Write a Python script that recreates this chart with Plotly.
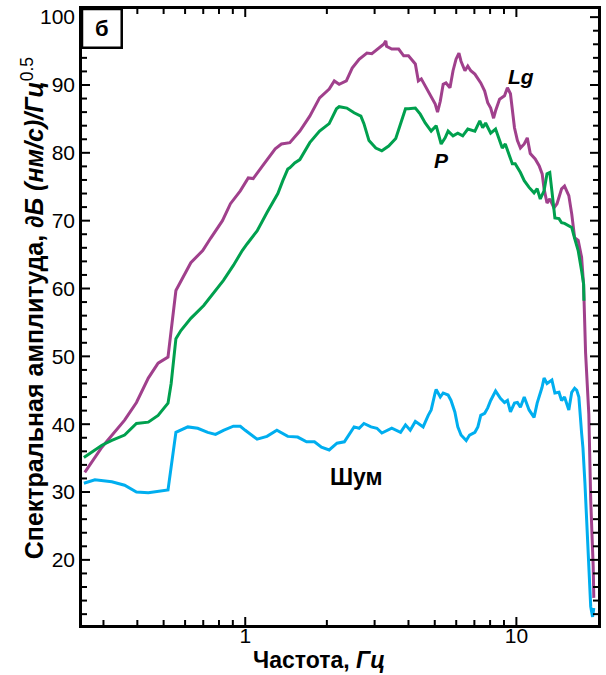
import math
import plotly.graph_objects as go

# ---- data (frequency in Hz, amplitude in dB) ----
lg_freq = [0.256, 0.296, 0.359, 0.397, 0.439, 0.477, 0.519, 0.555, 0.630, 0.697,
           0.745, 0.824, 0.882, 0.959, 1.026, 1.07, 1.16, 1.29, 1.36, 1.46,
           1.59, 1.73, 1.88, 2.04, 2.13, 2.22, 2.36, 2.48, 2.63, 2.81,
           2.93, 3.11, 3.24, 3.30, 3.32, 3.47, 3.68, 3.84, 4.00, 4.24,
           4.35, 4.46, 4.73, 5.02, 5.12, 5.24, 5.37, 5.50, 5.69, 5.84,
           5.99, 6.14, 6.25, 6.46, 6.62, 6.79, 7.03, 7.21, 7.39, 7.64,
           7.84, 8.04, 8.24, 8.38, 8.67, 9.04, 9.27, 9.51, 9.66, 9.84,
           10.09, 10.35, 10.69, 10.97, 11.25, 11.73, 12.13, 12.45, 12.65, 12.97,
           13.28, 13.76, 14.12, 14.68, 15.05, 15.61, 16.0, 16.4, 16.9, 17.4,
           17.7, 17.9, 18.0, 18.5, 18.8, 19.2, 19.3]
lg_amp = [32.9, 36.6, 40.6, 43.2, 46.8, 49.0, 49.9, 59.7, 63.8, 65.6,
          67.4, 70.0, 72.5, 74.4, 76.3, 76.2, 78.1, 80.6, 81.3, 81.5,
          83.2, 85.4, 88.1, 89.4, 90.6, 90.1, 90.6, 92.5, 93.8, 94.7,
          94.6, 95.4, 96.0, 96.5, 95.7, 95.3, 95.3, 94.3, 94.3, 93.1,
          90.6, 90.9, 89.1, 87.2, 86.0, 87.6, 90.1, 90.3, 89.6, 92.1,
          93.8, 94.7, 93.5, 92.1, 92.8, 92.1, 91.6, 91.0, 90.3, 89.1,
          87.4, 86.6, 85.1, 86.2, 87.9, 88.4, 89.6, 88.7, 86.2, 83.7,
          81.8, 80.7, 81.3, 82.2, 79.9, 79.1, 78.1, 76.9, 74.7, 72.6,
          73.2, 71.9, 72.5, 74.7, 75.1, 73.7, 71.0, 67.5, 67.1, 64.6,
          60.5, 55.0, 50.5, 41.5, 28.8, 19.0, 14.4]

p_freq = [0.254, 0.272, 0.296, 0.322, 0.359, 0.397, 0.439, 0.477, 0.519, 0.533,
          0.555, 0.579, 0.630, 0.703, 0.764, 0.831, 0.904, 0.975, 1.017, 1.106,
          1.203, 1.319, 1.376, 1.435, 1.46, 1.522, 1.59, 1.73, 1.88, 2.04,
          2.17, 2.22, 2.37, 2.52, 2.67, 2.74, 2.86, 3.03, 3.19, 3.38,
          3.59, 3.74, 3.90, 4.00, 4.24, 4.42, 4.61, 4.85, 5.06, 5.28,
          5.46, 5.60, 5.84, 6.08, 6.34, 6.62, 7.03, 7.33, 7.51, 7.70,
          8.04, 8.38, 8.67, 8.87, 9.10, 9.44, 9.66, 9.90, 10.35, 10.69,
          11.14, 11.62, 11.93, 12.25, 12.65, 12.97, 13.28, 13.52, 13.87, 14.36,
          14.68, 15.05, 15.61, 16.0, 16.4, 16.9, 17.4, 17.7, 17.75]
p_amp = [35.1, 35.9, 36.9, 37.6, 38.4, 40.1, 40.3, 41.3, 43.1, 46.0,
         52.6, 53.8, 55.6, 57.5, 59.3, 61.2, 63.4, 65.6, 66.6, 68.5,
         71.2, 74.0, 75.9, 77.6, 77.8, 78.5, 79.0, 81.5, 83.2, 84.3,
         86.5, 86.8, 86.6, 85.9, 85.4, 84.3, 81.8, 80.7, 80.3, 81.0,
         82.1, 84.3, 86.5, 86.5, 86.6, 85.7, 84.4, 83.2, 84.0, 81.3,
         82.2, 83.2, 82.5, 82.9, 82.5, 83.5, 83.2, 84.7, 83.7, 84.4,
         82.9, 83.5, 81.8, 80.7, 81.3, 79.3, 78.4, 78.4, 77.1, 75.9,
         74.9, 74.1, 74.7, 73.2, 74.4, 76.9, 77.1, 74.4, 70.4, 70.3,
         69.7, 69.6, 69.3, 69.0, 67.4, 65.6, 62.6, 60.7, 58.2]

noise_freq = [0.254, 0.279, 0.322, 0.359, 0.397, 0.439, 0.519, 0.555, 0.614, 0.668,
              0.727, 0.777, 0.831, 0.904, 0.959, 1.0, 1.106, 1.203, 1.308, 1.435,
              1.561, 1.683, 1.80, 1.91, 2.04, 2.18, 2.32, 2.52, 2.63, 2.74,
              2.91, 3.06, 3.19, 3.47, 3.74, 3.90, 4.06, 4.24, 4.35, 4.53,
              4.73, 4.85, 5.02, 5.06, 5.24, 5.37, 5.60, 5.74, 5.93, 6.08,
              6.25, 6.53, 6.72, 7.03, 7.21, 7.39, 7.64, 7.84, 8.04, 8.38,
              8.73, 9.04, 9.27, 9.51, 9.84, 10.09, 10.35, 10.69, 11.14, 11.62,
              11.93, 12.43, 12.65, 12.97, 13.52, 13.87, 14.36, 14.68, 15.05, 15.61,
              16.0, 16.4, 16.7, 17.0, 17.4, 17.6, 17.9, 18.3, 18.6, 18.8,
              19.1, 19.3]
noise_amp = [31.3, 31.8, 31.5, 31.0, 30.0, 29.9, 30.3, 38.8, 39.6, 39.4,
             38.8, 38.5, 39.1, 39.7, 39.7, 39.1, 37.8, 38.2, 39.1, 38.2,
             38.1, 37.4, 37.4, 36.6, 36.2, 37.2, 37.4, 39.6, 39.4, 40.1,
             39.6, 39.4, 38.7, 39.4, 38.8, 39.9, 39.1, 40.4, 40.1, 39.6,
             41.3, 42.1, 44.7, 45.1, 44.0, 44.6, 44.3, 43.5, 41.8, 39.6,
             38.4, 37.6, 38.4, 38.8, 39.6, 41.3, 41.6, 42.4, 43.5, 44.9,
             43.8, 43.2, 43.5, 41.8, 43.1, 43.2, 42.5, 44.0, 42.1, 41.0,
             43.1, 45.4, 46.8, 46.0, 46.5, 44.6, 44.7, 43.5, 44.0, 42.1,
             44.7, 45.3, 45.0, 44.0, 38.7, 36.5, 31.3, 24.0, 17.1, 13.1,
             11.6, 12.9]

x_tick_vals = [1, 10]
x_tick_text = ["1", "10"]
x_minor_vals = [0.3, 0.4, 0.5, 0.6, 0.7, 0.8, 0.9, 2, 3, 4, 5, 6, 7, 8, 9]
y_tick_vals = [20, 30, 40, 50, 60, 70, 80, 90, 100]
y_minor_vals = [v for v in range(12, 101, 2) if v % 10 != 0]

FONT = "Liberation Sans, Arial, sans-serif"
C_LG = "#A0408C"
C_P = "#00A04E"
C_N = "#00AEEF"
X_MIN, X_MAX = 0.25, 20
Y_MIN, Y_MAX = 10.4, 101.2
MAJOR_LEN, MINOR_LEN = 8, 5

fig = go.Figure()
fig.add_trace(go.Scatter(x=lg_freq, y=lg_amp, mode="lines",
                         line=dict(color=C_LG, width=3), showlegend=False))
fig.add_trace(go.Scatter(x=p_freq, y=p_amp, mode="lines",
                         line=dict(color=C_P, width=3), showlegend=False))
fig.add_trace(go.Scatter(x=noise_freq, y=noise_amp, mode="lines",
                         line=dict(color=C_N, width=3), showlegend=False))

fig.update_layout(
    width=606, height=675,
    margin=dict(l=82, r=5, t=8, b=50),
    paper_bgcolor="white", plot_bgcolor="white",
    font=dict(family=FONT, color="black", size=21),
    xaxis=dict(type="log", range=[math.log10(X_MIN), math.log10(X_MAX)],
               tickvals=x_tick_vals, ticktext=x_tick_text, ticks="",
               ticklabelstandoff=-10,
               showline=True, linecolor="black", linewidth=2.5, mirror=True,
               showgrid=False, zeroline=False, tickfont=dict(size=21, family=FONT)),
    yaxis=dict(range=[Y_MIN, Y_MAX], tickvals=y_tick_vals, ticks="",
               showline=True, linecolor="black", linewidth=2.5, mirror=True,
               showgrid=False, zeroline=False, tickfont=dict(size=21, family=FONT)),
)

# inside tick marks on all four sides, positioned by the axes' own scales
tick_line = dict(color="black", width=2)
for vals, ln in ((x_tick_vals, MAJOR_LEN), (x_minor_vals, MINOR_LEN)):
    for v in vals:
        fig.add_shape(type="line", xref="x", yref="paper", x0=v, x1=v,
                      ysizemode="pixel", yanchor=0, y0=0, y1=ln, line=tick_line)
        fig.add_shape(type="line", xref="x", yref="paper", x0=v, x1=v,
                      ysizemode="pixel", yanchor=1, y0=0, y1=-ln, line=tick_line)
for vals, ln in ((y_tick_vals, MAJOR_LEN), (y_minor_vals, MINOR_LEN)):
    for v in vals:
        fig.add_shape(type="line", xref="paper", yref="y", y0=v, y1=v,
                      xsizemode="pixel", xanchor=0, x0=0, x1=ln, line=tick_line)
        fig.add_shape(type="line", xref="paper", yref="y", y0=v, y1=v,
                      xsizemode="pixel", xanchor=1, x0=0, x1=-ln, line=tick_line)

# panel label box
fig.add_shape(type="rect", xref="paper", yref="paper",
              x0=0, x1=0.077, y0=0.937, y1=1.0,
              line=dict(color="black", width=2.5), fillcolor="white")
fig.add_annotation(xref="paper", yref="paper", x=0.0385, y=0.9685,
                   xanchor="center", yanchor="middle",
                   text="<b>б</b>", showarrow=False, font=dict(size=22, family=FONT))

# axis titles
fig.add_annotation(xref="paper", yref="paper", x=0.46, y=-0.057,
                   xanchor="center", yanchor="middle",
                   text="<b>Частота, <i>Гц</i></b>", showarrow=False,
                   font=dict(size=23, family=FONT))
fig.add_annotation(xref="paper", yref="paper", x=-0.096, y=0.515, textangle=-90,
                   xanchor="center", yanchor="middle",
                   text="<b>Спектральная амплитуда, <i>∂Б (нм/с)/Гц</i></b><sup>0.5</sup>",
                   showarrow=False, font=dict(size=25, family=FONT))

# curve labels
fig.add_annotation(x=math.log10(10.4), y=91.3, text="<b><i>Lg</i></b>", showarrow=False,
                   xanchor="center", yanchor="middle", font=dict(size=21, family=FONT))
fig.add_annotation(x=math.log10(5.28), y=78.8, text="<b><i>P</i></b>", showarrow=False,
                   xanchor="center", yanchor="middle", font=dict(size=21, family=FONT))
fig.add_annotation(x=math.log10(2.58), y=32.2, text="<b>Шум</b>", showarrow=False,
                   xanchor="center", yanchor="middle", font=dict(size=23, family=FONT))

fig.write_html("out.html")
